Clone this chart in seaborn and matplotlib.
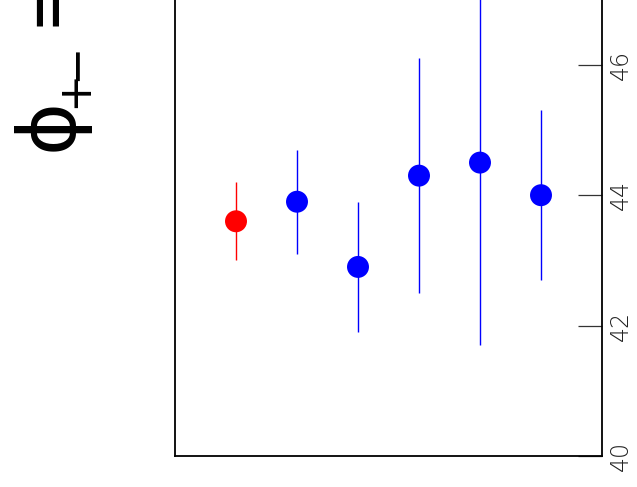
import matplotlib
matplotlib.use("Agg")
import matplotlib.pyplot as plt
import seaborn as sns
import pandas as pd

# Measurements of phi_{+-} (degrees) with their uncertainties
labels = ["avg", "m1", "m2", "m3", "m4", "m5"]
values = [43.6, 43.9, 42.9, 44.3, 44.5, 44.0]
errors = [0.6, 0.8, 1.0, 1.8, 2.8, 1.3]
kinds = ["average", "single", "single", "single", "single", "single"]
yticks = [40, 42, 44, 46]

sns.set_style("white")
plt.rcParams["font.family"] = ["DejaVu Sans"]

df = pd.DataFrame({"pos": range(len(labels)), "value": values,
                   "err": errors, "kind": kinds})
palette = {"average": "#ff0000", "single": "#0000ff"}

W, H = 637, 487
fig = plt.figure(figsize=(W / 100, H / 100), dpi=100)
ax = fig.add_axes([175 / W, 31 / H, 427 / W, 521.6 / H])

for kind, sub in df.groupby("kind"):
    ax.errorbar(sub["pos"], sub["value"], yerr=sub["err"], fmt="none",
                ecolor=palette[kind], elinewidth=1.0, capsize=0, zorder=2)

sns.scatterplot(data=df, x="pos", y="value", hue="kind", palette=palette,
                s=250, edgecolor="none", legend=False, ax=ax, zorder=3)

ax.set_xlim(-1, 6)
ax.set_ylim(40, 48)
ax.set_xlabel("")
ax.set_ylabel("")
ax.set_xticks([])

ax.yaxis.tick_right()
ax.set_yticks(yticks)
ax.set_yticklabels([str(t) for t in yticks], rotation=90, va="center",
                   fontsize=17, fontweight="light", color="#222222")
ax.tick_params(axis="y", which="major", direction="in", length=17,
               width=0.9, pad=5, right=True, left=False, color="#333333")

for side in ["left", "bottom", "right"]:
    ax.spines[side].set_visible(True)
    ax.spines[side].set_color("black")
    ax.spines[side].set_linewidth(1.3)
ax.spines["top"].set_visible(False)


def margin_text(s, px, py, size, ha):
    """Rotated text anchored on its baseline at pixel position (px, py)."""
    fig.text(px / W, 1 - py / H, s, rotation=90, rotation_mode="anchor",
             fontsize=size, ha=ha, va="baseline", color="black")


# Rotated quantity label in the left margin: phi with "+-" subscript, then "="
margin_text("ϕ", 72, 151, 58, "left")
margin_text("+", 87, 89, 33, "center")
margin_text("\u2212", 87, 62, 33, "center")
margin_text("=", 66, -8, 58, "center")

fig.savefig("out.png", dpi=100)
